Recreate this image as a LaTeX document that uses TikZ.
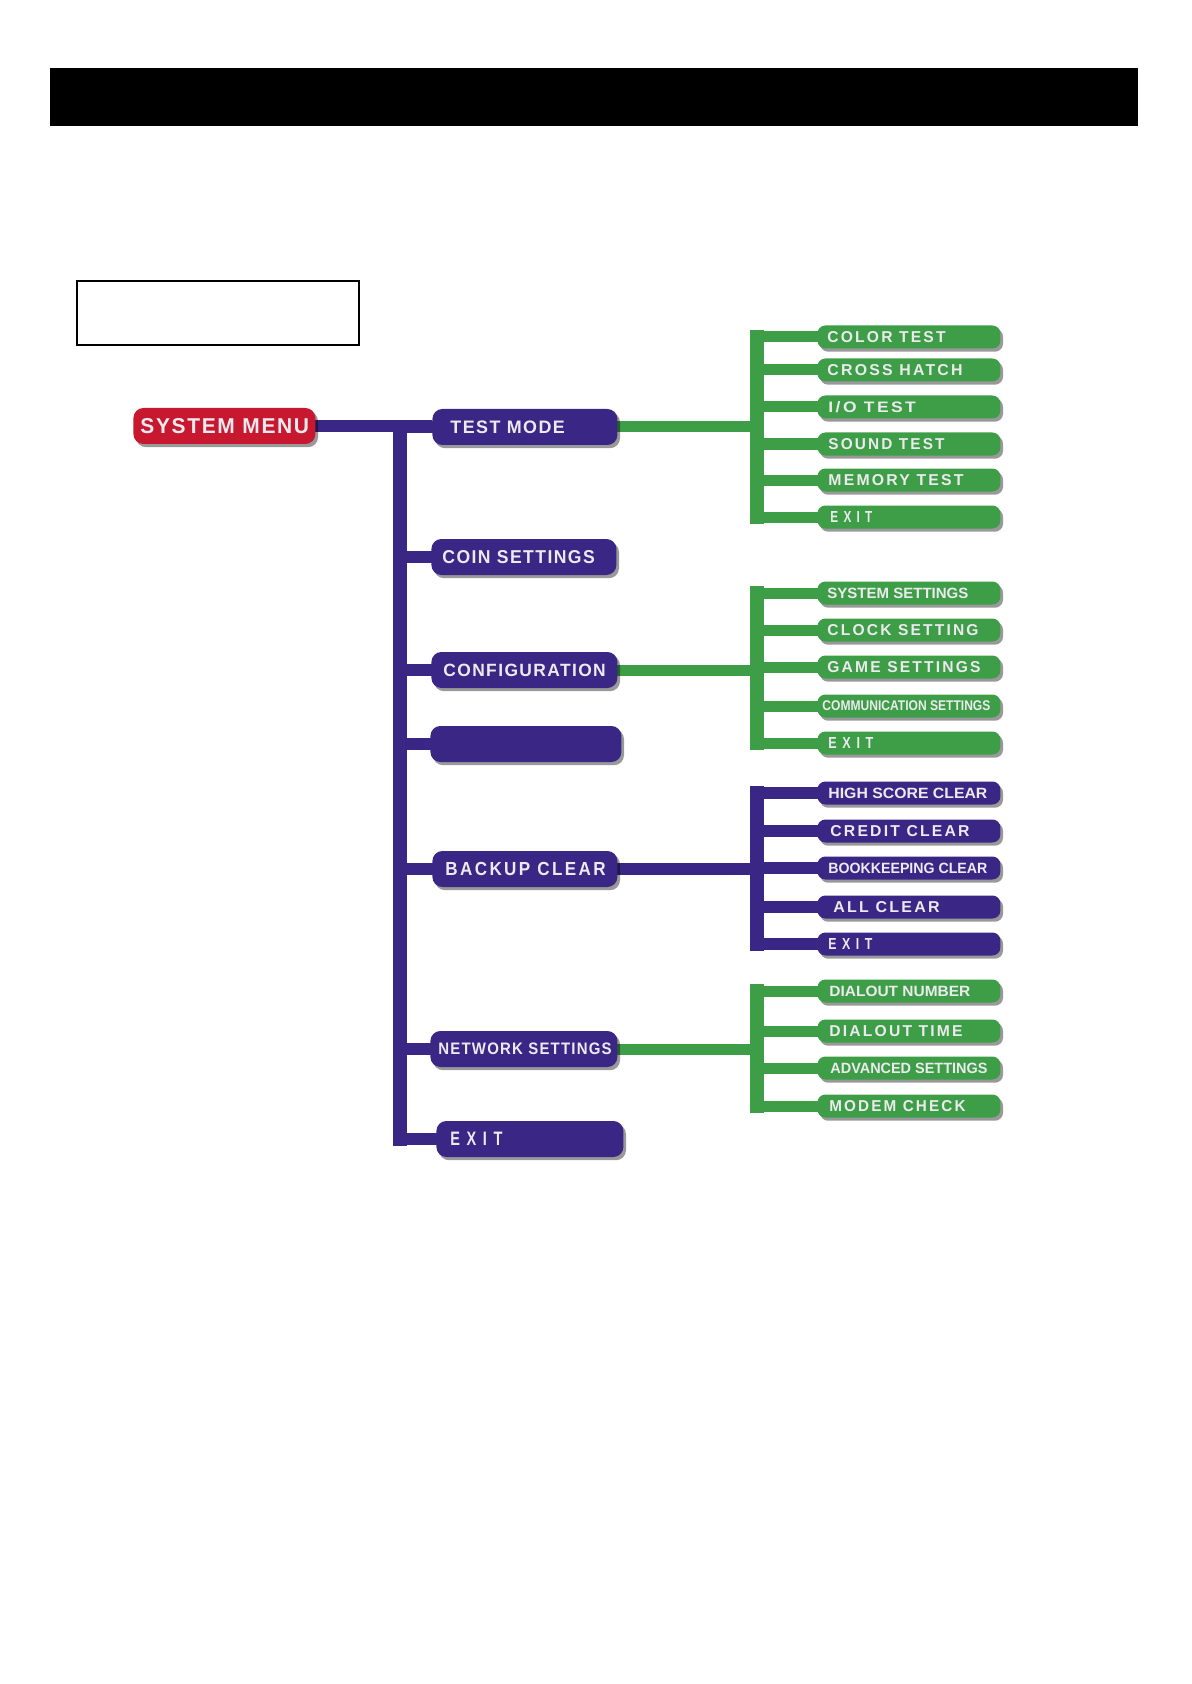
\documentclass[tikz,border=0pt]{standalone}
\usepackage{fontspec}
\setmainfont{Liberation Sans}
\newfontfamily\pfa[LetterSpace=8]{Liberation Sans}
\newfontfamily\pfb[LetterSpace=14]{Liberation Sans}
\newfontfamily\pfn[LetterSpace=0]{Liberation Sans}
\usetikzlibrary{shadows,backgrounds}
\definecolor{mred}{RGB}{200,24,48}
\definecolor{mpur}{RGB}{58,38,132}
\definecolor{mgrn}{RGB}{62,158,72}
\definecolor{mtxt}{RGB}{236,234,238}
\newcommand\labA[5]{\makebox[#1][l]{\hspace*{#2}\resizebox{#3}{#4}{\pfa\bfseries #5\kern-0.08em}}}
\newcommand\labW[5]{\makebox[#1][l]{\hspace*{#2}\resizebox{#3}{#4}{\pfb\bfseries #5\kern-0.14em}}}
\newcommand\labN[5]{\makebox[#1][l]{\hspace*{#2}\resizebox{#3}{#4}{\pfn\bfseries #5}}}
\newcommand\labX[4]{\makebox[#1][l]{\hspace*{#2}\resizebox{#3}{#4}{\pfn\bfseries E\hskip.45em X\hskip.45em I\hskip.45em T}}}
\begin{document}
\begin{tikzpicture}[x=0.5pt,y=-0.5pt,
  shd/.style={drop shadow={shadow xshift=1.3pt,shadow yshift=-1.6pt,opacity=0.4,fill=black}},
  mpill/.style={shd,rounded corners=5pt,minimum height=18pt,inner sep=0pt,text depth=0pt,anchor=west,text=mtxt},
  spill/.style={shd,rounded corners=4pt,minimum height=11.5pt,inner sep=0pt,text depth=0pt,anchor=west,text=mtxt},
  pl/.style={draw=mpur,line width=6pt},
  gl/.style={draw=mgrn,line width=5.5pt},
  vb/.style={line width=7pt,line cap=rect}]
\useasboundingbox (0,0) rectangle (1191,1684);
% header bar and empty box
\fill[black] (50,68) rectangle (1138,126);
\draw[black,line width=1.1pt] (77,281) rectangle (359,345);

% main menu
\node[mpill,fill=mred] (sm) at (133,426) {\labA{91pt}{3.5pt}{83.5pt}{7.5pt}{SYSTEM MENU}};
\node[mpill,fill=mpur] (tm) at (432,427) {\labA{92.5pt}{9pt}{56.5pt}{6.3pt}{TEST MODE}};
\node[mpill,fill=mpur] (cs) at (431,557) {\labA{92.5pt}{5.5pt}{75.5pt}{6.5pt}{COIN SETTINGS}};
\node[mpill,fill=mpur] (cf) at (431,670) {\labA{93pt}{6pt}{80.5pt}{6.2pt}{CONFIGURATION}};
\node[mpill,fill=mpur] (bl) at (430,744) {\makebox[95.5pt]{}};
\node[mpill,fill=mpur] (bc) at (432,869) {\labW{92.5pt}{6.5pt}{79pt}{6.6pt}{BACKUP CLEAR}};
\node[mpill,fill=mpur] (ns) at (430,1049) {\labA{93.5pt}{4pt}{86pt}{5.8pt}{NETWORK SETTINGS}};
\node[mpill,fill=mpur] (ex) at (436,1139) {\labX{93.5pt}{7pt}{26pt}{6.7pt}};

% test mode submenu
\node[spill,fill=mgrn] (c1) at (817,337) {\labW{91.5pt}{5pt}{58pt}{5.5pt}{COLOR TEST}};
\node[spill,fill=mgrn] (c2) at (817,370) {\labW{91.5pt}{5pt}{66.5pt}{5.5pt}{CROSS HATCH}};
\node[spill,fill=mgrn] (c3) at (817,407) {\labW{91.5pt}{5.5pt}{42.5pt}{5.5pt}{I/O TEST}};
\node[spill,fill=mgrn] (c4) at (817,444) {\labW{91.5pt}{5.5pt}{57pt}{5.5pt}{SOUND TEST}};
\node[spill,fill=mgrn] (c5) at (817,480) {\labW{91.5pt}{5.5pt}{66.5pt}{5.5pt}{MEMORY TEST}};
\node[spill,fill=mgrn] (c6) at (817,517) {\labX{91.5pt}{6.5pt}{21pt}{5.5pt}};

% configuration submenu
\node[spill,fill=mgrn] (d1) at (817,593) {\labN{91.5pt}{5pt}{70.5pt}{5.2pt}{SYSTEM SETTINGS}};
\node[spill,fill=mgrn] (d2) at (817,630) {\labW{91.5pt}{5pt}{74.5pt}{5.5pt}{CLOCK SETTING}};
\node[spill,fill=mgrn] (d3) at (817,667) {\labW{91.5pt}{5pt}{75.5pt}{5.5pt}{GAME SETTINGS}};
\node[spill,fill=mgrn] (d4) at (817,706) {\labN{91.5pt}{2.5pt}{84pt}{4.9pt}{COMMUNICATION SETTINGS}};
\node[spill,fill=mgrn] (d5) at (817,743) {\labX{91.5pt}{5.5pt}{22.5pt}{5.5pt}};

% backup clear submenu
\node[spill,fill=mpur] (e1) at (817,793) {\labN{91.5pt}{5.5pt}{79.5pt}{5.2pt}{HIGH SCORE CLEAR}};
\node[spill,fill=mpur] (e2) at (817,831) {\labW{91.5pt}{6.5pt}{68.5pt}{5.5pt}{CREDIT CLEAR}};
\node[spill,fill=mpur] (e3) at (817,868) {\labN{91.5pt}{5.5pt}{79.5pt}{5.2pt}{BOOKKEEPING CLEAR}};
\node[spill,fill=mpur] (e4) at (817,907) {\labW{91.5pt}{8pt}{52pt}{5.5pt}{ALL CLEAR}};
\node[spill,fill=mpur] (e5) at (817,944) {\labX{91.5pt}{5.5pt}{22pt}{5.5pt}};

% network settings submenu
\node[spill,fill=mgrn] (f1) at (817,991) {\labN{91.5pt}{6pt}{70.5pt}{5.2pt}{DIALOUT NUMBER}};
\node[spill,fill=mgrn] (f2) at (817,1031) {\labW{91.5pt}{6pt}{65.5pt}{5.5pt}{DIALOUT TIME}};
\node[spill,fill=mgrn] (f3) at (817,1068) {\labN{91.5pt}{6.5pt}{78.5pt}{5.2pt}{ADVANCED SETTINGS}};
\node[spill,fill=mgrn] (f4) at (817,1106) {\labW{91.5pt}{6pt}{67pt}{5.5pt}{MODEM CHECK}};

\coordinate (t0) at (400,427);
\coordinate (t1) at (400,1139);
\coordinate (g1) at (757,427);
\coordinate (g2) at (757,670);
\coordinate (g3) at (757,869);
\coordinate (g4) at (757,1049);

\begin{scope}[on background layer]
  % main trunk
  \draw[pl] ([xshift=-4pt]sm.east) -- (sm.east -| tm.west);
  \draw[pl,vb] (t0) -- (t1);
  \foreach \n in {tm,cs,cf,bl,bc,ns,ex}
    \draw[pl] (t0 |- \n.west) -- ([xshift=4pt]\n.west);
  % test mode
  \draw[gl] ([xshift=-4pt]tm.east) -- (g1);
  \draw[gl,vb] (g1 |- c1.west) -- (g1 |- c6.west);
  \foreach \n in {c1,c2,c3,c4,c5,c6}
    \draw[gl] (g1 |- \n.west) -- ([xshift=4pt]\n.west);
  % configuration
  \draw[gl] ([xshift=-4pt]cf.east) -- (g2);
  \draw[gl,vb] (g2 |- d1.west) -- (g2 |- d5.west);
  \foreach \n in {d1,d2,d3,d4,d5}
    \draw[gl] (g2 |- \n.west) -- ([xshift=4pt]\n.west);
  % backup clear
  \draw[pl] ([xshift=-4pt]bc.east) -- (g3);
  \draw[pl,vb] (g3 |- e1.west) -- (g3 |- e5.west);
  \foreach \n in {e1,e2,e3,e4,e5}
    \draw[pl] (g3 |- \n.west) -- ([xshift=4pt]\n.west);
  % network settings
  \draw[gl] ([xshift=-4pt]ns.east) -- (g4);
  \draw[gl,vb] (g4 |- f1.west) -- (g4 |- f4.west);
  \foreach \n in {f1,f2,f3,f4}
    \draw[gl] (g4 |- \n.west) -- ([xshift=4pt]\n.west);
\end{scope}
\end{tikzpicture}
\end{document}
